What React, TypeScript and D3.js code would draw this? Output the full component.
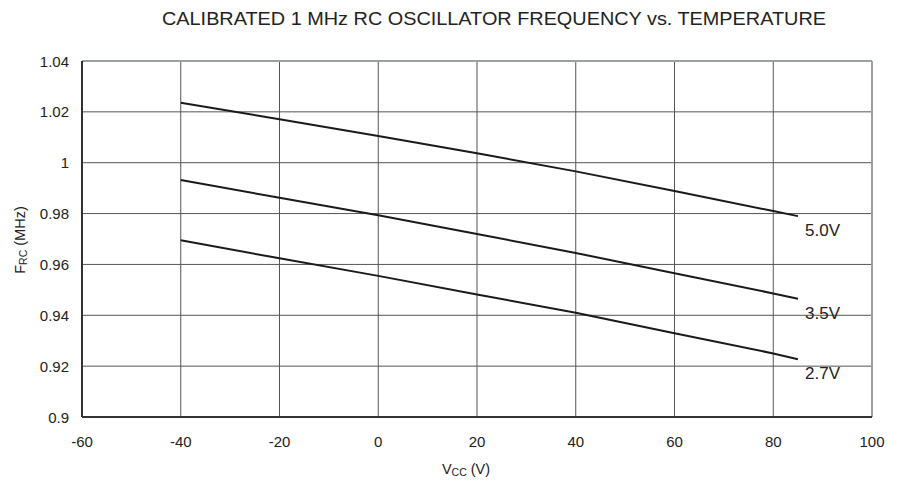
import React from "react";
import * as d3 from "d3";

const temps = [-40, -20, 0, 20, 40, 60, 80, 85];
const v50 = [1.0236, 1.0171, 1.0105, 1.0037, 0.9966, 0.9889, 0.981, 0.979];
const v35 = [0.9932, 0.9862, 0.9793, 0.972, 0.9645, 0.9565, 0.9486, 0.9465];
const v27 = [0.9695, 0.9624, 0.9555, 0.9482, 0.941, 0.9329, 0.925, 0.9227];
const seriesLabels = ["5.0V", "3.5V", "2.7V"];
const xTicks = [-60, -40, -20, 0, 20, 40, 60, 80, 100];
const yTicks = [0.9, 0.92, 0.94, 0.96, 0.98, 1, 1.02, 1.04];

const W = 898, H = 485;
const L = 82, R = 872, T = 61, B = 417;
const font = "Liberation Sans, Arial, sans-serif";

export default function App() {
  const x = d3.scaleLinear().domain([-60, 100]).range([L, R]);
  const y = d3.scaleLinear().domain([0.9, 1.04]).range([B, T]);
  const line = d3.line<number>().x((_, i) => x(temps[i])).y((d) => y(d));
  const series = [v50, v35, v27];
  return (
    <svg width={W} height={H} style={{ position: "absolute", left: 0, top: 0 }}>
      <rect x={0} y={0} width={W} height={H} fill="#fff" />
      <text x={162} y={25} textLength={664} lengthAdjust="spacingAndGlyphs" fontFamily={font} fontSize={19} fill="#222">
        CALIBRATED 1 MHz RC OSCILLATOR FREQUENCY vs. TEMPERATURE
      </text>
      {xTicks.slice(1, -1).map((t) => (
        <line key={"gx" + t} x1={x(t)} x2={x(t)} y1={T} y2={B} stroke="#555" strokeWidth={1} />
      ))}
      {yTicks.slice(1, -1).map((t) => (
        <line key={"gy" + t} x1={L} x2={R} y1={y(t)} y2={y(t)} stroke="#555" strokeWidth={1} />
      ))}
      <line x1={L} x2={R} y1={T} y2={T} stroke="#9aa0a4" strokeWidth={2} />
      <line x1={R} x2={R} y1={T} y2={B} stroke="#9aa0a4" strokeWidth={2} />
      <line x1={L} x2={L} y1={T} y2={B} stroke="#333" strokeWidth={2} />
      <line x1={L} x2={R} y1={B} y2={B} stroke="#333" strokeWidth={2} />
      {series.map((s, i) => (
        <path key={i} d={line(s) || ""} fill="none" stroke="#1a1a1a" strokeWidth={2} />
      ))}
      {series.map((s, i) => (
        <text key={"l" + i} x={805} y={y(s[s.length - 1]) + 20} fontFamily={font} fontSize={17} fill="#222">
          {seriesLabels[i]}
        </text>
      ))}
      {yTicks.map((t) => (
        <text key={"ty" + t} x={69} y={y(t) + 5.5} textAnchor="end" fontFamily={font} fontSize={15} fill="#222">
          {d3.format("~g")(t)}
        </text>
      ))}
      {xTicks.map((t) => (
        <text key={"tx" + t} x={x(t)} y={447} textAnchor="middle" fontFamily={font} fontSize={15} fill="#222">
          {t}
        </text>
      ))}
      <text x={466} y={474} textAnchor="middle" fontFamily={font} fontSize={14.5} fill="#222">
        V<tspan fontSize={10.5} dy={2}>CC</tspan><tspan dy={-2}> (V)</tspan>
      </text>
      <text transform={`translate(25,240) rotate(-90)`} textAnchor="middle" fontFamily={font} fontSize={14.5} fill="#222">
        F<tspan fontSize={10.5} dy={2}>RC</tspan><tspan dy={-2}> (MHz)</tspan>
      </text>
    </svg>
  );
}
